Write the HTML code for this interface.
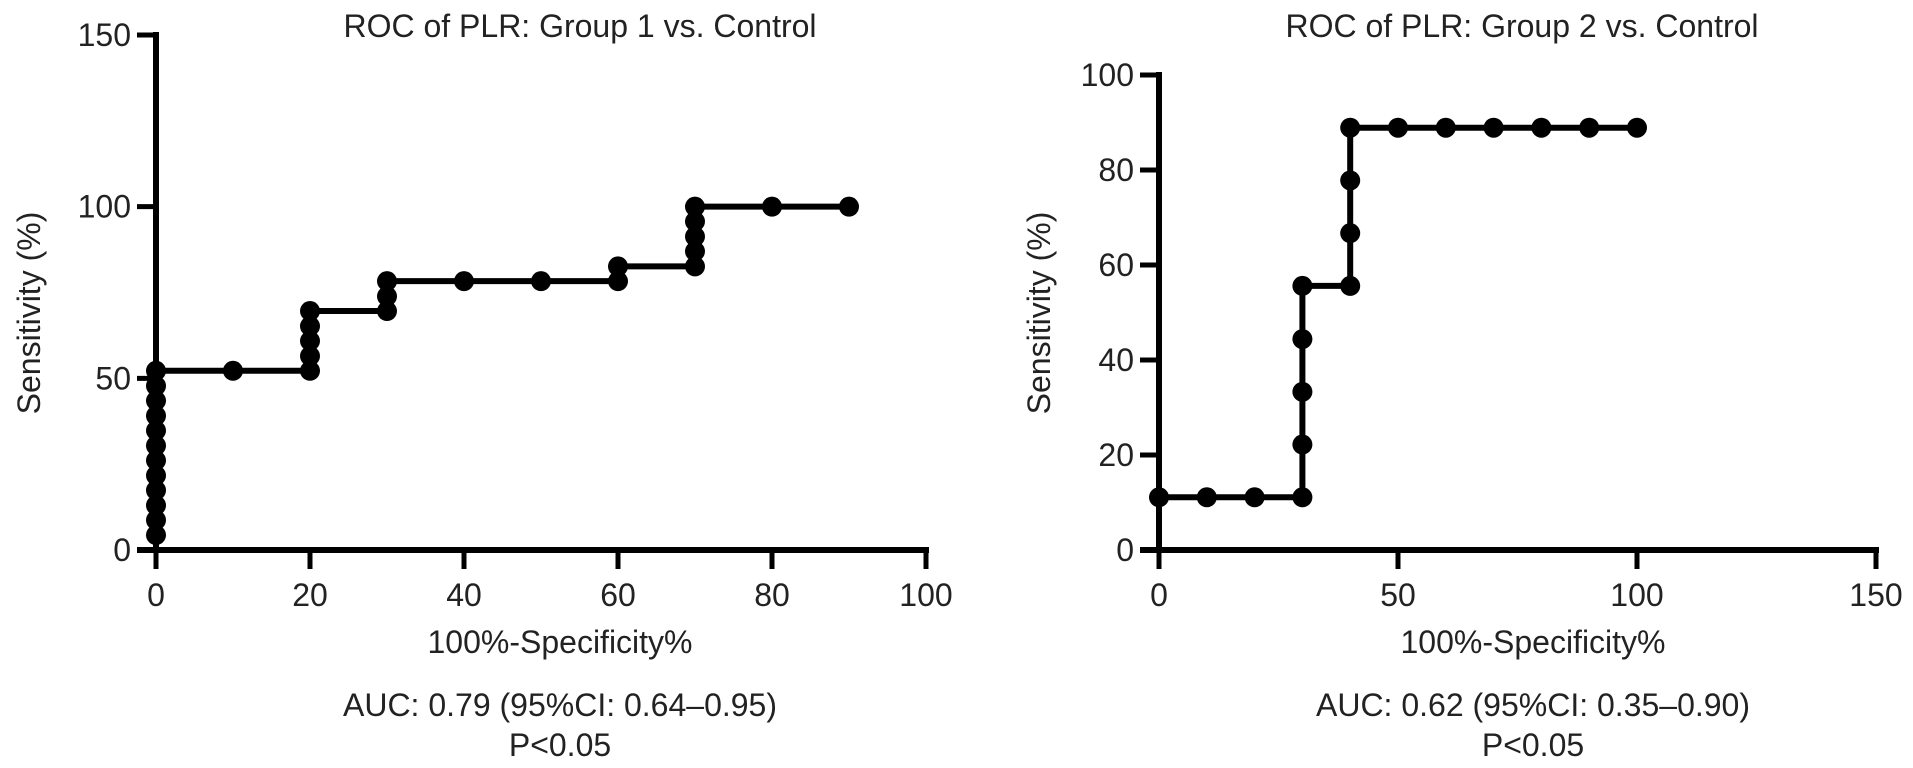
<!DOCTYPE html>
<html><head><meta charset="utf-8"><style>
html,body{margin:0;padding:0;background:#fff;}
svg{display:block;}
text{font-family:"Liberation Sans",Arial,sans-serif;fill:#222;}
</style></head><body>
<svg id="chart" width="1913" height="768" viewBox="0 0 1913 768" xmlns="http://www.w3.org/2000/svg"></svg>
<script>
// Panel 1 data
const p1X = [0,0,0,0,0,0,0,0,0,0,0,0,10,20,20,20,20,20,30,30,30,40,50,60,60,70,70,70,70,70,80,90];
const p1Y = [4.35,8.7,13.0,17.4,21.7,26.1,30.4,34.8,39.1,43.5,47.8,52.2,52.2,52.2,56.5,60.9,65.2,69.6,69.6,73.9,78.3,78.3,78.3,78.3,82.6,82.6,87.0,91.3,95.7,100,100,100];
const p1XTicks = [0,20,40,60,80,100];
const p1YTicks = [0,50,100,150];
// Panel 2 data
const p2X = [0,10,20,30,30,30,30,30,40,40,40,40,50,60,70,80,90,100];
const p2Y = [11.1,11.1,11.1,11.1,22.2,33.3,44.4,55.6,55.6,66.7,77.8,88.9,88.9,88.9,88.9,88.9,88.9,88.9];
const p2XTicks = [0,50,100,150];
const p2YTicks = [0,20,40,60,80,100];

const NS = "http://www.w3.org/2000/svg";
const svg = document.getElementById('chart');
const FS = 32;
function mk(tag, attrs, parent){
  const e = document.createElementNS(NS, tag);
  for (const k in attrs) e.setAttribute(k, attrs[k]);
  (parent||svg).appendChild(e);
  return e;
}
function panel(cfg){
  const g = mk('g', {});
  
  
  const sx = v => cfg.x0 + (v - cfg.xmin) / (cfg.xmax - cfg.xmin) * (cfg.x1 - cfg.x0);
  const sy = v => cfg.y0 - (v - cfg.ymin) / (cfg.ymax - cfg.ymin) * (cfg.y0 - cfg.y1);
  const ya = mk('line', {x1:sx(cfg.xmin), y1:sy(cfg.ymin)+3, x2:sx(cfg.xmin), y2:sy(cfg.ymax)-3, stroke:'#000','stroke-width':6}, g);
  
  
  const xa = mk('line', {x1:sx(cfg.xmin)-19, y1:sy(cfg.ymin), x2:sx(cfg.xmax)+3, y2:sy(cfg.ymin), stroke:'#000','stroke-width':6}, g);
  
  
  cfg.yt.forEach(v => {
    const t = mk('line', {x1:sx(cfg.xmin)-19, y1:sy(v), x2:sx(cfg.xmin), y2:sy(v), stroke:'#000','stroke-width':5}, g);
    
    
    const l = mk('text', {x:sx(cfg.xmin)-25, y:sy(v)+11, 'text-anchor':'end','font-size':FS}, g);
    l.textContent = v;
    
    
  });
  cfg.xt.forEach(v => {
    const t = mk('line', {x1:sx(v), y1:sy(cfg.ymin), x2:sx(v), y2:sy(cfg.ymin)+19, stroke:'#000','stroke-width':5}, g);
    
    
    const l = mk('text', {x:sx(v), y:606, 'text-anchor':'middle','font-size':FS}, g);
    l.textContent = v;
    
    
  });
  let d = '';
  cfg.xs.forEach((v,i) => { d += (i ? 'L' : 'M') + sx(v) + ' ' + sy(cfg.ys[i]); });
  const p = mk('path', {d:d, fill:'none', stroke:'#000','stroke-width':6,'stroke-linejoin':'miter'}, g);
  
  
  cfg.xs.forEach((v,i) => {
    const c = mk('circle', {cx:sx(v), cy:sy(cfg.ys[i]), r:10, fill:'#000'}, g);
    
    
  });
  const tt = mk('text', {x:cfg.titleX, y:37, 'text-anchor':'middle','font-size':FS}, g);
  tt.textContent = cfg.title;
  
  
  const yt = mk('text', {x:0, y:0, 'text-anchor':'middle','font-size':FS, transform:'translate(' + cfg.yTitleX + ',313) rotate(-90)'}, g);
  yt.textContent = 'Sensitivity (%)';
  
  
  const xt = mk('text', {x:cfg.textX, y:653, 'text-anchor':'middle','font-size':FS}, g);
  xt.textContent = '100%-Specificity%';
  
  
  const a = mk('text', {x:cfg.textX, y:716, 'text-anchor':'middle','font-size':FS}, g);
  a.textContent = cfg.auc;
  
  
  const pv = mk('text', {x:cfg.textX, y:756, 'text-anchor':'middle','font-size':FS}, g);
  pv.textContent = 'P<0.05';
  
  
}
panel({name:'roc-group1-panel', x0:156, x1:926, xmin:0, xmax:100, y0:550, y1:35, ymin:0, ymax:150,
  xt:p1XTicks, yt:p1YTicks, xs:p1X, ys:p1Y, title:'ROC of PLR: Group 1 vs. Control', titleX:580,
  yTitleX:40, textX:560, auc:'AUC: 0.79 (95%CI: 0.64\u20130.95)'});
panel({name:'roc-group2-panel', x0:1159, x1:1876, xmin:0, xmax:150, y0:550, y1:75, ymin:0, ymax:100,
  xt:p2XTicks, yt:p2YTicks, xs:p2X, ys:p2Y, title:'ROC of PLR: Group 2 vs. Control', titleX:1522,
  yTitleX:1050, textX:1533, auc:'AUC: 0.62 (95%CI: 0.35\u20130.90)'});
</script>
</body></html>
